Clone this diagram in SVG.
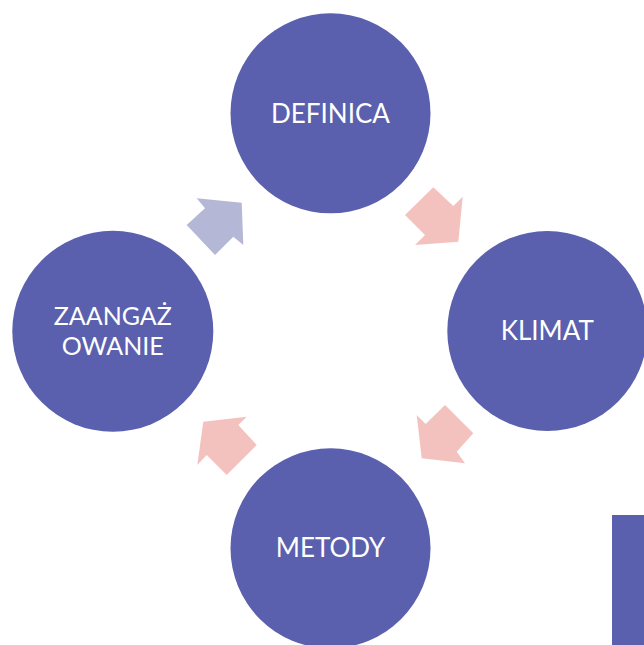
<svg xmlns="http://www.w3.org/2000/svg" width="644" height="645" viewBox="0 0 644 645">
<style>
.c{fill:#5A60AD}
.t{font-family:Lato,"Open Sans","Liberation Sans",sans-serif;font-size:26px;fill:#FFFFFF;text-anchor:middle}
.t2{font-size:25px}
.pink{fill:#F4C2BE}
.lav{fill:#B5B7D6}
</style>
<rect width="644" height="645" fill="#FFFFFF"/>
<g id="connectors">
<polygon class="lav" points="196.7,198.3 241.7,202.7 243.3,245 233.3,236.7 215,255 186.7,225 205,208.3"/>
<polygon class="pink" points="433.3,187.3 453.3,206 462.7,196.7 458.3,241.7 415,245 425,235 405,215"/>
<polygon class="pink" points="445,405 473.3,433.3 456.7,451.7 465,463.3 421.7,458.3 416.7,415 425.7,424"/>
<polygon class="pink" points="203.3,421.7 246.7,416.7 238.3,425 256.7,445 226.7,475 206.7,455 197.3,465"/>
</g>
<g id="definica">
<circle class="c" cx="330.5" cy="113.3" r="100"/>
<text class="t" x="330.5" y="122.7">DEFINICA</text>
</g>
<g id="klimat">
<circle class="c" cx="547.3" cy="331" r="100"/>
<text class="t" x="547.3" y="340">KLIMAT</text>
</g>
<g id="metody">
<circle class="c" cx="330.5" cy="548.3" r="100"/>
<text class="t" x="330.5" y="557.3">METODY</text>
</g>
<g id="zaangazowanie">
<circle class="c" cx="112.8" cy="331.3" r="100.5"/>
<text class="t t2" x="112.8" y="325">ZAANGAŻ</text>
<text class="t t2" x="112.8" y="355">OWANIE</text>
</g>
<g id="side-bar">
<rect x="612" y="515" width="32" height="130" fill="#5A60AD"/>
</g>
</svg>
